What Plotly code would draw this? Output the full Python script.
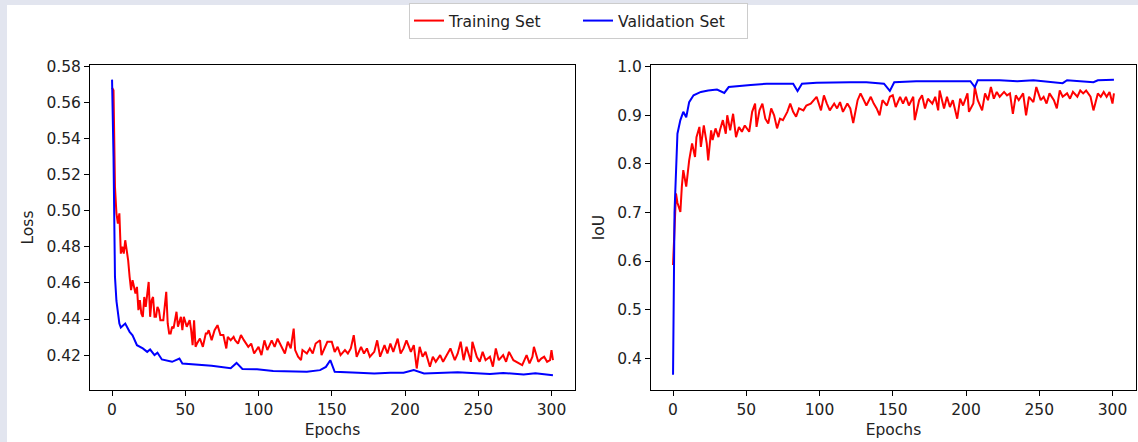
import plotly.graph_objects as go

# ---------------- data ----------------
loss_train_epochs = [0, 1, 2, 3, 4, 5, 6, 7, 8, 9, 10, 11, 12, 13, 14, 15, 16, 17, 18, 19, 20, 21, 22, 23, 25, 26, 27, 28, 29, 30, 31, 32, 33, 35, 37, 38, 39, 40, 41, 42, 44, 45, 46, 47, 48, 49, 51, 53, 54, 55, 56, 57, 58, 60, 62, 64, 65, 66, 68, 70, 72, 74, 76, 78, 79, 81, 83, 84, 86, 88, 90, 93, 95, 97, 100, 102, 104, 106, 109, 111, 113, 116, 118, 120, 122, 124, 125, 127, 129, 130, 133, 135, 137, 139, 142, 143, 145, 147, 150, 152, 154, 156, 159, 161, 163, 165, 167, 170, 172, 174, 176, 179, 181, 183, 186, 188, 190, 192, 195, 197, 199, 201, 204, 206, 208, 210, 212, 214, 217, 219, 221, 224, 226, 228, 231, 234, 236, 238, 240, 242, 245, 246, 249, 251, 253, 255, 258, 260, 262, 264, 267, 269, 271, 274, 276, 278, 280, 283, 285, 287, 288, 291, 293, 295, 297, 299, 300, 301]
loss_train_values = [0.5680, 0.5666, 0.5130, 0.4985, 0.4928, 0.4985, 0.4762, 0.4800, 0.4762, 0.4836, 0.4781, 0.4725, 0.4633, 0.4560, 0.4615, 0.4573, 0.4541, 0.4578, 0.4449, 0.4504, 0.4430, 0.4412, 0.4522, 0.4467, 0.4605, 0.4412, 0.4504, 0.4522, 0.4412, 0.4412, 0.4467, 0.4449, 0.4393, 0.4393, 0.4550, 0.4375, 0.4320, 0.4320, 0.4357, 0.4348, 0.4440, 0.4357, 0.4384, 0.4412, 0.4338, 0.4412, 0.4357, 0.4393, 0.4338, 0.4255, 0.4393, 0.4246, 0.4264, 0.4292, 0.4246, 0.4320, 0.4320, 0.4338, 0.4283, 0.4338, 0.4366, 0.4311, 0.4311, 0.4237, 0.4301, 0.4283, 0.4301, 0.4283, 0.4264, 0.4311, 0.4283, 0.4246, 0.4264, 0.4209, 0.4246, 0.4200, 0.4282, 0.4228, 0.4282, 0.4246, 0.4291, 0.4246, 0.4209, 0.4274, 0.4237, 0.4347, 0.4228, 0.4191, 0.4172, 0.4228, 0.4209, 0.4237, 0.4209, 0.4264, 0.4282, 0.4200, 0.4237, 0.4274, 0.4274, 0.4218, 0.4246, 0.4200, 0.4228, 0.4209, 0.4237, 0.4310, 0.4191, 0.4246, 0.4209, 0.4237, 0.4191, 0.4218, 0.4282, 0.4191, 0.4255, 0.4209, 0.4264, 0.4218, 0.4291, 0.4209, 0.4237, 0.4282, 0.4218, 0.4255, 0.4126, 0.4246, 0.4191, 0.4218, 0.4136, 0.4191, 0.4163, 0.4200, 0.4163, 0.4191, 0.4237, 0.4172, 0.4209, 0.4274, 0.4172, 0.4246, 0.4163, 0.4274, 0.4191, 0.4163, 0.4218, 0.4172, 0.4191, 0.4136, 0.4237, 0.4172, 0.4200, 0.4163, 0.4218, 0.4172, 0.4163, 0.4154, 0.4145, 0.4200, 0.4154, 0.4191, 0.4246, 0.4163, 0.4181, 0.4191, 0.4163, 0.4172, 0.4228, 0.4172]

loss_val_epochs = [0, 1, 2, 3, 5, 6, 9, 12, 14, 17, 21, 24, 26, 29, 31, 34, 41, 46, 48, 58, 68, 81, 85, 89, 99, 110, 122, 133, 142, 146, 149, 152, 168, 179, 190, 199, 206, 213, 236, 258, 267, 281, 289, 301]
loss_val_values = [0.5725, 0.5300, 0.4633, 0.4500, 0.4375, 0.4353, 0.4375, 0.4329, 0.4310, 0.4255, 0.4237, 0.4218, 0.4231, 0.4200, 0.4213, 0.4176, 0.4163, 0.4181, 0.4154, 0.4148, 0.4141, 0.4127, 0.4157, 0.4123, 0.4122, 0.4112, 0.4108, 0.4108, 0.4117, 0.4135, 0.4172, 0.4108, 0.4102, 0.4099, 0.4102, 0.4102, 0.4117, 0.4099, 0.4105, 0.4095, 0.4101, 0.4093, 0.4100, 0.4089]

iou_train_epochs = [0, 1, 2, 3, 5, 6, 7, 9, 11, 13, 15, 16, 18, 19, 21, 23, 24, 26, 27, 29, 31, 32, 34, 36, 37, 39, 41, 43, 45, 47, 49, 52, 54, 56, 57, 59, 61, 63, 65, 67, 69, 71, 73, 75, 78, 80, 82, 84, 86, 89, 91, 94, 96, 98, 101, 103, 105, 107, 110, 112, 114, 116, 119, 121, 123, 126, 128, 130, 132, 135, 137, 139, 141, 143, 146, 148, 150, 152, 155, 157, 159, 161, 164, 165, 168, 170, 172, 174, 177, 179, 181, 182, 185, 187, 189, 191, 194, 196, 198, 201, 202, 205, 206, 208, 211, 213, 215, 217, 219, 221, 223, 226, 228, 230, 232, 234, 236, 239, 241, 243, 246, 248, 251, 253, 255, 257, 260, 262, 264, 266, 269, 271, 273, 276, 278, 280, 282, 285, 287, 290, 292, 294, 296, 298, 300, 301]
iou_train_values = [0.592, 0.677, 0.739, 0.720, 0.701, 0.753, 0.787, 0.753, 0.807, 0.842, 0.814, 0.855, 0.876, 0.835, 0.879, 0.842, 0.807, 0.869, 0.849, 0.873, 0.855, 0.869, 0.890, 0.862, 0.900, 0.869, 0.903, 0.855, 0.876, 0.866, 0.879, 0.866, 0.907, 0.924, 0.876, 0.910, 0.924, 0.893, 0.883, 0.914, 0.900, 0.873, 0.893, 0.890, 0.907, 0.924, 0.907, 0.897, 0.914, 0.910, 0.920, 0.924, 0.931, 0.938, 0.910, 0.941, 0.924, 0.910, 0.924, 0.914, 0.927, 0.907, 0.924, 0.914, 0.884, 0.931, 0.945, 0.934, 0.920, 0.938, 0.924, 0.914, 0.900, 0.931, 0.920, 0.938, 0.941, 0.917, 0.938, 0.924, 0.938, 0.920, 0.938, 0.890, 0.931, 0.941, 0.914, 0.934, 0.924, 0.938, 0.910, 0.951, 0.914, 0.938, 0.917, 0.931, 0.893, 0.934, 0.920, 0.945, 0.907, 0.924, 0.958, 0.931, 0.910, 0.945, 0.931, 0.958, 0.934, 0.948, 0.938, 0.948, 0.941, 0.945, 0.903, 0.941, 0.931, 0.945, 0.900, 0.938, 0.927, 0.958, 0.931, 0.938, 0.924, 0.945, 0.931, 0.914, 0.951, 0.938, 0.945, 0.934, 0.948, 0.938, 0.951, 0.945, 0.951, 0.938, 0.910, 0.945, 0.938, 0.948, 0.938, 0.948, 0.924, 0.945]

iou_val_epochs = [0, 1, 3, 5, 7, 9, 11, 14, 19, 24, 30, 35, 38, 44, 53, 64, 76, 82, 85, 88, 98, 110, 121, 132, 144, 148, 151, 166, 189, 203, 206, 208, 223, 235, 246, 266, 269, 287, 290, 301]
iou_val_values = [0.366, 0.700, 0.862, 0.890, 0.907, 0.896, 0.927, 0.941, 0.948, 0.951, 0.953, 0.946, 0.958, 0.960, 0.962, 0.965, 0.966, 0.965, 0.950, 0.965, 0.967, 0.968, 0.968, 0.968, 0.965, 0.950, 0.968, 0.970, 0.970, 0.970, 0.958, 0.972, 0.972, 0.970, 0.972, 0.966, 0.972, 0.968, 0.972, 0.973]

series_names = ["Training Set", "Validation Set"]
series_colors = ["#ff0000", "#0000ff"]

# ---------------- figure ----------------
W, H = 1138, 442
ML, MR, MT, MB = 90, 2, 65, 52
PW = W - ML - MR
PH = H - MT - MB

def px_x(px):
    return (px - ML) / PW

def px_y(py):
    return (H - MB - py) / PH

FONT = "DejaVu Sans"
FS = 15.5

fig = go.Figure()
fig.add_trace(go.Scatter(x=loss_train_epochs, y=loss_train_values, mode="lines",
                         name=series_names[0], line=dict(color=series_colors[0], width=2),
                         xaxis="x", yaxis="y", legendgroup="t"))
fig.add_trace(go.Scatter(x=loss_val_epochs, y=loss_val_values, mode="lines",
                         name=series_names[1], line=dict(color=series_colors[1], width=2),
                         xaxis="x", yaxis="y", legendgroup="v"))
fig.add_trace(go.Scatter(x=iou_train_epochs, y=iou_train_values, mode="lines",
                         name=series_names[0], line=dict(color=series_colors[0], width=2),
                         xaxis="x2", yaxis="y2", showlegend=False, legendgroup="t"))
fig.add_trace(go.Scatter(x=iou_val_epochs, y=iou_val_values, mode="lines",
                         name=series_names[1], line=dict(color=series_colors[1], width=2),
                         xaxis="x2", yaxis="y2", showlegend=False, legendgroup="v"))

axis_common = dict(showline=True, linecolor="black", linewidth=1, mirror=True,
                   ticks="outside", ticklen=5, tickwidth=1, tickcolor="black",
                   showgrid=False, zeroline=False,
                   tickfont=dict(family=FONT, size=FS, color="#222222"))

x1_dom = [0, px_x(575)]
x2_dom = [px_x(651), 1]

fig.update_layout(
    width=W, height=H,
    margin=dict(l=ML, r=MR, t=MT, b=MB),
    paper_bgcolor="#e2e5ef",
    plot_bgcolor="white",
    font=dict(family=FONT, size=FS, color="#222222"),
    xaxis=dict(domain=x1_dom, anchor="y", range=[-15.05, 316.05],
               tickvals=[0, 50, 100, 150, 200, 250, 300],
               title=dict(text="Epochs", font=dict(family=FONT, size=FS), standoff=6),
               **axis_common),
    yaxis=dict(domain=[0, 1], anchor="x", range=[0.4007, 0.5806],
               tickvals=[0.42, 0.44, 0.46, 0.48, 0.50, 0.52, 0.54, 0.56, 0.58],
               ticktext=["0.42", "0.44", "0.46", "0.48", "0.50", "0.52", "0.54", "0.56", "0.58"],
               title=dict(text="Loss", font=dict(family=FONT, size=FS), standoff=8),
               **axis_common),
    xaxis2=dict(domain=x2_dom, anchor="y2", range=[-15.05, 316.05],
                tickvals=[0, 50, 100, 150, 200, 250, 300],
                title=dict(text="Epochs", font=dict(family=FONT, size=FS), standoff=6),
                **axis_common),
    yaxis2=dict(domain=[0, 1], anchor="x2", range=[0.3346, 1.0034],
                tickvals=[0.4, 0.5, 0.6, 0.7, 0.8, 0.9, 1.0],
                ticktext=["0.4", "0.5", "0.6", "0.7", "0.8", "0.9", "1.0"],
                title=dict(text="IoU", font=dict(family=FONT, size=FS), standoff=8),
                **axis_common),
    legend=dict(orientation="h", x=px_x(578.5), xanchor="center",
                y=px_y(3), yanchor="top",
                bgcolor="white", bordercolor="#cccccc", borderwidth=1,
                font=dict(family=FONT, size=FS, color="#222222"),
                itemwidth=30, entrywidth=124, tracegroupgap=0),
    shapes=[dict(type="rect", xref="paper", yref="paper",
                 x0=px_x(7), x1=px_x(W + 5), y0=px_y(H + 5), y1=px_y(5),
                 fillcolor="white", line=dict(width=0), layer="below")],
    showlegend=True,
)

fig.write_html("out.html", config={"displayModeBar": False},
               post_script="document.body.style.margin='0px';document.body.style.padding='0px';")
